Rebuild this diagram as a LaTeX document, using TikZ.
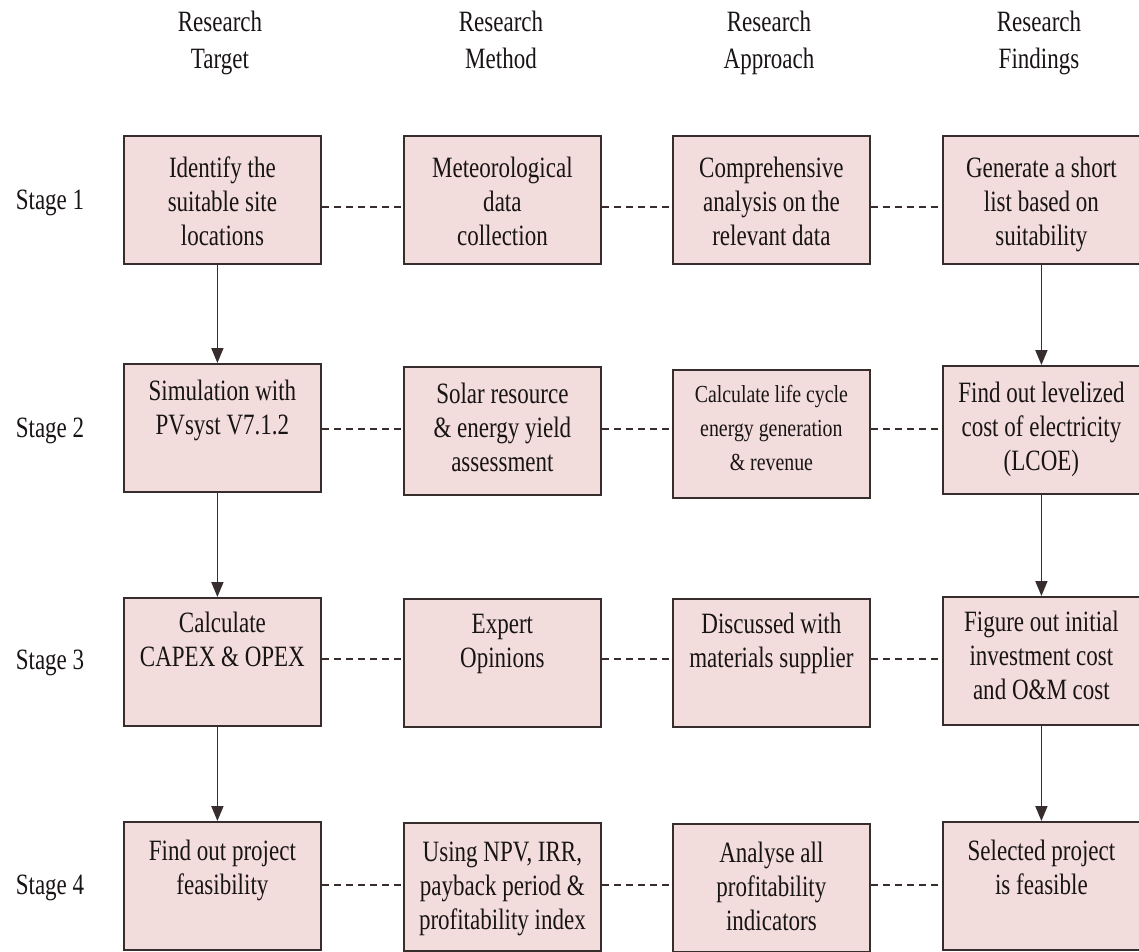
\documentclass[tikz,border=0pt]{standalone}
\usepackage{fontspec}
\setmainfont{Liberation Serif}[FakeStretch=0.78]
\newfontfamily\smallserif{Liberation Serif}[FakeStretch=0.81]
\usetikzlibrary{arrows.meta}

\definecolor{boxfill}{RGB}{242,220,220}
\definecolor{edge}{RGB}{55,45,45}
\definecolor{ink}{RGB}{25,20,20}

% box contents: fixed-height, top-aligned text; #1 = depth of the first baseline
\newcommand\boxtext[2]{\parbox[c][128pt][t]{195pt}{\centering\rule{0pt}{#1}#2}}

\begin{document}
\begin{tikzpicture}[
  x=1pt, y=1pt,
  every node/.style={font=\fontsize{29.5}{34}\selectfont, text=ink},
  box/.style={draw=edge, fill=boxfill, line width=1.8pt, inner sep=0pt,
              minimum width=197pt, minimum height=128pt, anchor=north west},
  link/.style={draw=edge, line width=1.8pt, dash pattern=on 7pt off 5pt},
  flow/.style={draw=edge, line width=1.8pt, -{Triangle[length=15pt,width=12pt]}},
  hdr/.style={align=center, anchor=north, inner sep=0pt,
              font=\fontsize{29.5}{37}\selectfont},
  stagelbl/.style={anchor=base, inner sep=0pt}
]
\useasboundingbox (0,0) rectangle (1139,-951);

% column headings
\node[hdr] (h1) at (220,-11)  {Research\\Target};
\node[hdr] (h2) at (501,-11)  {Research\\Method};
\node[hdr] (h3) at (769,-11)  {Research\\Approach};
\node[hdr] (h4) at (1039,-11) {Research\\Findings};

% stage labels
\node[stagelbl] (s1) at (50,-209) {Stage 1};
\node[stagelbl] (s2) at (50,-437) {Stage 2};
\node[stagelbl] (s3) at (50,-669) {Stage 3};
\node[stagelbl] (s4) at (50,-894) {Stage 4};

% stage 1
\node[box] (a1) at (123,-135) {\boxtext{42pt}{Identify the\\suitable site\\locations}};
\node[box] (b1) at (403,-135) {\boxtext{42pt}{Meteorological\\data\\collection}};
\node[box] (c1) at (672,-135) {\boxtext{42pt}{Comprehensive\\analysis on the\\relevant data}};
\node[box] (d1) at (942,-135) {\boxtext{42pt}{Generate a short\\list based on\\suitability}};

% stage 2
\node[box] (a2) at (123,-363) {\boxtext{37pt}{Simulation with\\PVsyst V7.1.2}};
\node[box] (b2) at (403,-366) {\boxtext{37pt}{Solar resource\\\& energy yield\\assessment}};
\node[box, font=\smallserif\fontsize{24.5}{34}\selectfont] (c2) at (672,-369)
  {\boxtext{33pt}{Calculate life cycle\\energy generation\\\& revenue}};
\node[box] (d2) at (942,-365) {\boxtext{37pt}{Find out levelized\\cost of electricity\\(LCOE)}};

% stage 3
\node[box] (a3) at (123,-597) {\boxtext{35pt}{Calculate\\CAPEX \& OPEX}};
\node[box] (b3) at (403,-598) {\boxtext{35pt}{Expert\\Opinions}};
\node[box] (c3) at (672,-598) {\boxtext{35pt}{Discussed with\\materials supplier}};
\node[box] (d3) at (942,-596) {\boxtext{35pt}{Figure out initial\\investment cost\\and O\&M cost}};

% stage 4
\node[box] (a4) at (123,-821) {\boxtext{39pt}{Find out project\\feasibility}};
\node[box] (b4) at (403,-822) {\boxtext{39pt}{Using NPV, IRR,\\payback period \&\\profitability index}};
\node[box] (c4) at (672,-823) {\boxtext{39pt}{Analyse all\\profitability\\indicators}};
\node[box] (d4) at (942,-821) {\boxtext{39pt}{Selected project\\is feasible}};

% heights of the dashed row links
\coordinate (r1) at (0,-207);
\coordinate (r2) at (0,-429);
\coordinate (r3) at (0,-659);
\coordinate (r4) at (0,-885);

\foreach \r in {1,2,3,4}{
  \draw[link] (a\r.east |- r\r) -- (b\r.west |- r\r);
  \draw[link] (b\r.east |- r\r) -- (c\r.west |- r\r);
  \draw[link] (c\r.east |- r\r) -- (d\r.west |- r\r);
}

% vertical flow, first and last columns
\draw[flow] ([xshift=-5pt]a1.south) -- ([xshift=-5pt]a1.south |- a2.north);
\draw[flow] ([xshift=-5pt]a2.south) -- ([xshift=-5pt]a2.south |- a3.north);
\draw[flow] ([xshift=-5pt]a3.south) -- ([xshift=-5pt]a3.south |- a4.north);
\draw[flow] (d1.south) -- (d1.south |- d2.north);
\draw[flow] (d2.south) -- (d2.south |- d3.north);
\draw[flow] (d3.south) -- (d3.south |- d4.north);
\end{tikzpicture}
\end{document}
